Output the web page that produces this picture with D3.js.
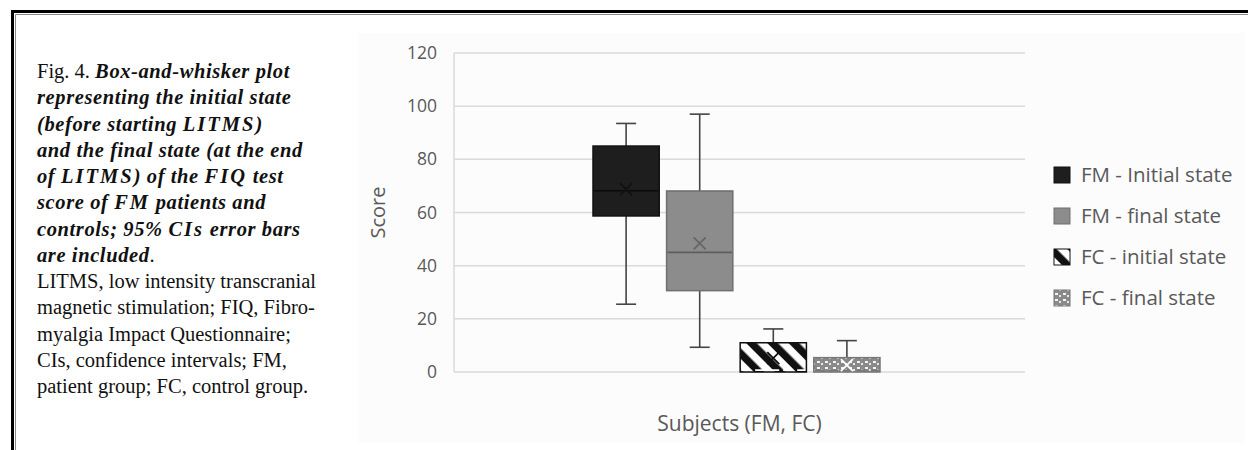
<!DOCTYPE html>
<html>
<head>
<meta charset="utf-8">
<title>Fig. 4 box plot</title>
<script src="https://d3js.org/d3.v7.min.js"></script>
<style>
  body { margin: 0; background: #fff; }
  svg { display: block; }
</style>
</head>
<body>
<svg id="chart" width="1248" height="450"></svg>
<script>
// data
const series = ["FM - Initial state", "FM - final state", "FC - initial state", "FC - final state"];
const whiskerLow = [25.5, 9.3, 0, 0];
const q1 = [58.7, 30.6, 0, 0];
const median = [68.2, 45, 0.7, 0.6];
const q3 = [85, 68.1, 11, 5.4];
const whiskerHigh = [93.5, 97, 16.2, 11.8];
const mean = [68.8, 48.4, 5.2, 2.6];
const yTicks = [0, 20, 40, 60, 80, 100, 120];

const captionLines = [
  [["Fig. 4. ", "n"], ["Box-and-whisker plot", "bi"]],
  [["representing the initial state", "bi"]],
  [["(before starting ", "bi"], ["LITMS)", "bic"]],
  [["and the final state (at the end", "bi"]],
  [["of ", "bi"], ["LITMS", "bic"], [") of the ", "bi"], ["FIQ", "bic"], [" test", "bi"]],
  [["score of ", "bi"], ["FM", "bic"], [" patients and", "bi"]],
  [["controls; 95% ", "bi"], ["CIs", "bic"], [" error bars", "bi"]],
  [["are included", "bi"], [".", "n"]],
  [["LITMS, low intensity transcranial", "n"]],
  [["magnetic stimulation; FIQ, Fibro-", "n"]],
  [["myalgia Impact Questionnaire;", "n"]],
  [["CIs, confidence intervals; FM,", "n"]],
  [["patient group; FC, control group.", "n"]]
];

const svg = d3.select("#chart");
const defs = svg.append("defs");

// hatch for FC initial
const hatch = defs.append("pattern")
  .attr("id", "hatch")
  .attr("patternUnits", "userSpaceOnUse")
  .attr("width", 15).attr("height", 15)
  .attr("patternTransform", "rotate(-45)");
hatch.append("rect").attr("width", 15).attr("height", 15).attr("fill", "#fff");
hatch.append("rect").attr("width", 7.5).attr("height", 15).attr("fill", "#111");

// confetti for FC final
const dots = defs.append("pattern")
  .attr("id", "dots")
  .attr("patternUnits", "userSpaceOnUse")
  .attr("width", 8).attr("height", 6);
dots.append("rect").attr("width", 8).attr("height", 6).attr("fill", "#8a8a8a");
dots.append("rect").attr("x", 1).attr("y", 1).attr("width", 3).attr("height", 2).attr("fill", "#f4f4f4");
dots.append("rect").attr("x", 5).attr("y", 3).attr("width", 2).attr("height", 2).attr("fill", "#e8e8e8");

const fills = ["#1e1e1e", "#8c8c8c", "url(#hatch)", "url(#dots)"];
const strokes = ["#111", "#6f6f6f", "#111", "#777"];
const medianColor = ["#0a0a0a", "#5e5e5e", "#fff", "#777"];
const meanColor = ["#111", "#666", "#111", "#fff"];

// page frame (double rule on top and left)
svg.append("path").attr("d", "M12.5,1000 V11.5 H1248").attr("fill", "none")
  .attr("stroke", "#000").attr("stroke-width", 3);
svg.append("path").attr("d", "M15.5,1000 V14.5 H1248").attr("fill", "none")
  .attr("stroke", "#888").attr("stroke-width", 1);

// caption
const cap = svg.append("text")
  .attr("font-family", "'Liberation Serif', 'DejaVu Serif', serif")
  .attr("font-size", 20.5)
  .attr("fill", "#111");
captionLines.forEach((line, i) => {
  line.forEach(([txt, st], j) => {
    const t = cap.append("tspan").text(txt);
    if (j === 0) t.attr("x", 37).attr("y", 78 + i * 26.25);
    if (st.startsWith("bi")) t.attr("font-weight", "bold").attr("font-style", "italic").attr("letter-spacing", 0.6);
    if (st === "bic") t.attr("letter-spacing", 2);
  });
});

// chart area background
svg.append("rect").attr("x", 358).attr("y", 33).attr("width", 887).attr("height", 410)
  .attr("fill", "#fcfcfc");

const plotL = 454, plotR = 1025;
const y = d3.scaleLinear().domain([0, 120]).range([372, 53]);
const x = d3.scaleBand().domain(series).range([593, 880]).paddingInner(0.1).paddingOuter(0);

// grid
svg.append("g").selectAll("line").data(yTicks).join("line")
  .attr("x1", plotL).attr("x2", plotR)
  .attr("y1", d => y(d)).attr("y2", d => y(d))
  .attr("stroke", "#dadada").attr("stroke-width", 1.5);
svg.append("line").attr("x1", plotL).attr("x2", plotL).attr("y1", y(120)).attr("y2", y(0))
  .attr("stroke", "#dadada").attr("stroke-width", 1.5);

// y axis labels
const yAxis = svg.append("g").attr("transform", `translate(${plotL},0)`)
  .call(d3.axisLeft(y).tickValues(yTicks).tickSize(0).tickPadding(17));
yAxis.select(".domain").remove();
yAxis.selectAll("text").attr("font-family", "'Open Sans', sans-serif")
  .attr("font-size", 17.5).attr("fill", "#595959");

svg.append("text").attr("transform", `translate(385,${(y(0) + y(120)) / 2}) rotate(-90)`)
  .attr("text-anchor", "middle")
  .attr("font-family", "'Open Sans', sans-serif").attr("font-size", 20).attr("fill", "#595959")
  .text("Score");

svg.append("text").attr("x", (plotL + plotR) / 2).attr("y", 431)
  .attr("text-anchor", "middle")
  .attr("font-family", "'Open Sans', sans-serif").attr("font-size", 21).attr("fill", "#595959")
  .text("Subjects (FM, FC)");

// boxes
const bw = x.bandwidth();
series.forEach((s, i) => {
  const g = svg.append("g");
  const cx = x(s) + bw / 2;
  // whiskers
  g.append("line").attr("x1", cx).attr("x2", cx).attr("y1", y(whiskerHigh[i])).attr("y2", y(q3[i]))
    .attr("stroke", "#444").attr("stroke-width", 1.6);
  g.append("line").attr("x1", cx).attr("x2", cx).attr("y1", y(q1[i])).attr("y2", y(whiskerLow[i]))
    .attr("stroke", "#444").attr("stroke-width", 1.6);
  [whiskerHigh[i], whiskerLow[i]].forEach(v => {
    if (v > 0) g.append("line").attr("x1", cx - 10).attr("x2", cx + 10)
      .attr("y1", y(v)).attr("y2", y(v)).attr("stroke", "#444").attr("stroke-width", 1.6);
  });
  // box
  g.append("rect").attr("x", x(s)).attr("width", bw)
    .attr("y", y(q3[i])).attr("height", y(q1[i]) - y(q3[i]))
    .attr("fill", fills[i]).attr("stroke", strokes[i]).attr("stroke-width", 1.5);
  // median
  g.append("line").attr("x1", x(s) + 1).attr("x2", x(s) + bw - 1)
    .attr("y1", y(median[i])).attr("y2", y(median[i]))
    .attr("stroke", medianColor[i]).attr("stroke-width", 1.6)
    .attr("stroke-dasharray", i >= 2 ? "10,4" : null);
  // mean marker
  const my = y(mean[i]);
  g.append("path").attr("d", `M${cx - 6},${my - 6}L${cx + 6},${my + 6}M${cx - 6},${my + 6}L${cx + 6},${my - 6}`)
    .attr("stroke", meanColor[i]).attr("stroke-width", 1.8).attr("fill", "none");
});

// legend
const legend = svg.append("g").selectAll("g").data(series).join("g")
  .attr("transform", (d, i) => `translate(1054,${175 + i * 41})`);
legend.append("rect").attr("x", 0).attr("y", -8).attr("width", 16).attr("height", 16)
  .attr("fill", (d, i) => fills[i]).attr("stroke", (d, i) => strokes[i]).attr("stroke-width", 1);
legend.append("text").attr("x", 27).attr("y", 0).attr("dy", "0.35em")
  .attr("font-family", "'Open Sans', sans-serif").attr("font-size", 20.5).attr("fill", "#595959")
  .text(d => d);
</script>
</body>
</html>
